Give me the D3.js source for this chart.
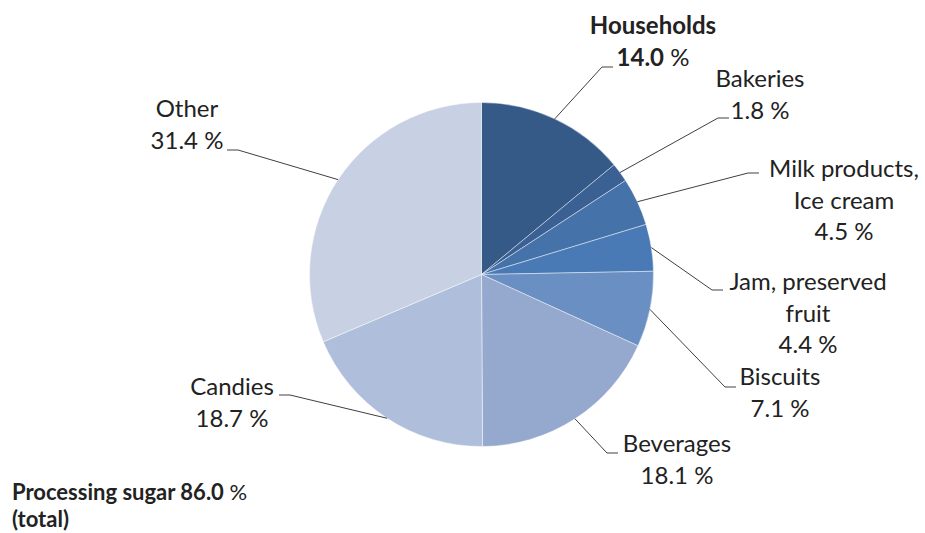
<!DOCTYPE html>
<html lang="en">
<head>
    <meta charset="UTF-8">
    <title>Sugar consumption by use</title>
    <script src="https://d3js.org/d3.v7.min.js"></script>
    <style>
        body {
            margin: 0;
            background: #fff;
            font-family: Lato, "Open Sans", sans-serif;
        }
        .label {
            font-size: 24px;
            fill: #222;
        }
        .leader {
            fill: none;
            stroke: #404040;
            stroke-width: 1px;
        }
    </style>
</head>
<body>
    <svg id="chart" width="925" height="533"></svg>

    <script>
        // Data
        const categories = ["Households", "Bakeries", "Milk products,\nIce cream", "Jam, preserved\nfruit",
                            "Biscuits", "Beverages", "Candies", "Other"];
        const shares = [14.0, 1.8, 4.5, 4.4, 7.1, 18.1, 18.7, 31.4];
        const colors = ["#365a87", "#3a6094", "#4472a9", "#4a7ab6", "#6a8fc3", "#95a9cf", "#afbfdb", "#c8d1e4"];
        const processingTotal = "86.0";

        // Label layout: elbow point of leader, direction of the short tick, text anchor point
        const labelLayout = [
            {elbow: [602, 67],  side: 1,  text: [653, 34]},
            {elbow: [718, 118], side: 1,  text: [760, 87]},
            {elbow: [748, 173], side: 1,  text: [844, 177]},
            {elbow: [712, 290], side: 1,  text: [808, 290]},
            {elbow: [725, 387], side: 1,  text: [780, 385]},
            {elbow: [607, 453], side: 1,  text: [677, 452]},
            {elbow: [290, 395], side: -1, text: [232, 395]},
            {elbow: [238, 150], side: -1, text: [187, 117]}
        ];

        const cx = 481.5, cy = 274.5, radius = 172;
        const lineHeight = 31.5;

        const svg = d3.select("#chart");
        const g = svg.append("g").attr("transform", `translate(${cx},${cy})`);

        const pie = d3.pie().sort(null).value(d => d);
        const arcs = pie(shares);
        const arc = d3.arc().innerRadius(0).outerRadius(radius);
        const edge = d3.arc().innerRadius(radius).outerRadius(radius);

        g.selectAll("path.slice")
            .data(arcs)
            .enter()
            .append("path")
            .attr("class", "slice")
            .attr("d", arc)
            .attr("fill", (d, i) => colors[i])
            .attr("stroke", "rgba(255,255,255,0.55)")
            .attr("stroke-width", 0.8);

        // Leader lines
        arcs.forEach((d, i) => {
            const lay = labelLayout[i];
            const p = edge.centroid(d);
            const start = [cx + p[0], cy + p[1]];
            const end = [lay.elbow[0] + lay.side * 11, lay.elbow[1]];
            svg.append("polyline")
                .attr("class", "leader")
                .attr("points", [start, lay.elbow, end].map(q => q.join(",")).join(" "));
        });

        // Labels
        arcs.forEach((d, i) => {
            const lay = labelLayout[i];
            const lines = categories[i].split("\n");
            const bold = i === 0;
            const t = svg.append("text")
                .attr("class", "label")
                .attr("text-anchor", "middle")
                .attr("x", lay.text[0])
                .attr("y", lay.text[1]);
            lines.forEach((ln, k) => {
                t.append("tspan")
                    .attr("x", lay.text[0])
                    .attr("dy", k === 0 ? 0 : lineHeight)
                    .style("font-weight", bold ? "bold" : "normal")
                    .text(ln);
            });
            const valLine = t.append("tspan")
                .attr("x", lay.text[0])
                .attr("dy", lineHeight);
            valLine.append("tspan")
                .style("font-weight", bold ? "bold" : "normal")
                .text(shares[i].toFixed(1));
            valLine.append("tspan").text(" %");
        });

        // Footer note
        const note = svg.append("text")
            .attr("class", "label")
            .style("font-size", "22px")
            .attr("x", 12)
            .attr("y", 500);
        note.append("tspan").style("font-weight", "bold").text(`Processing sugar ${processingTotal}`);
        note.append("tspan").text(" %");
        svg.append("text")
            .attr("class", "label")
            .style("font-size", "22px")
            .style("font-weight", "bold")
            .attr("x", 12)
            .attr("y", 527)
            .text("(total)");
    </script>
</body>
</html>
